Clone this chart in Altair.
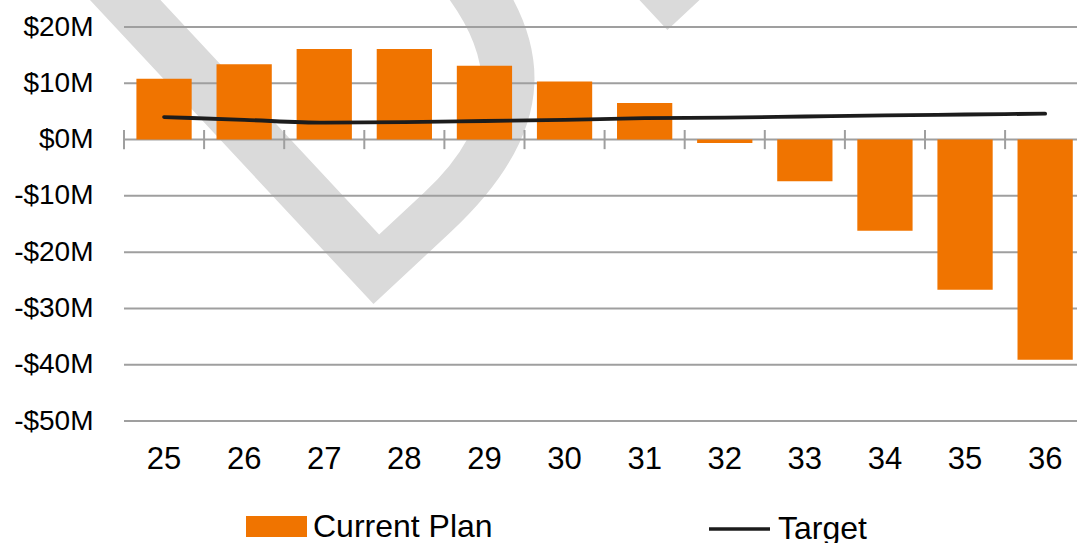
import altair as alt
import pandas as pd

# Fiscal years (two-digit) and the two series, in $M
years = ["25", "26", "27", "28", "29", "30", "31", "32", "33", "34", "35", "36"]
current_plan = [10.8, 13.4, 16.1, 16.1, 13.1, 10.3, 6.5, -0.6, -7.4, -16.2, -26.7, -39.1]
target = [4.0, 3.5, 3.0, 3.1, 3.3, 3.5, 3.8, 3.9, 4.1, 4.3, 4.45, 4.6]
y_ticks = [20, 10, 0, -10, -20, -30, -40, -50]
series_names = ["Current Plan", "Target"]
watermark = ["DRAFT"]

FONT = "Liberation Sans"
STAMP_FONT = "Liberation Sans Narrow, DejaVu Sans Condensed, Liberation Sans"
ORANGE = "#f07400"
LINE = "#1c1c1c"
GRID = "#9f9f9f"

df = pd.DataFrame({
    "year": years,
    "plan": current_plan,
    "target": target,
    "plan_name": series_names[0],
    "target_name": series_names[1],
})
grid_df = pd.DataFrame({"v": y_ticks})
mark_df = pd.DataFrame({"label": watermark})

W, H = 953, 394
STEP = 80.1

x_scale = alt.Scale(domain=years, range=[0, STEP * len(years)], paddingInner=0, paddingOuter=0)
y_scale = alt.Scale(domain=[-50, 20], nice=False)

x_axis = alt.Axis(labelFont=FONT, labelFontSize=31, labelColor="#000", labelPadding=38,
                  labelBaseline="middle", labelAngle=0, ticks=False, domain=False,
                  grid=False, title=None)
y_axis = alt.Axis(values=y_ticks,
                  labelExpr="(datum.value < 0 ? '-$' : '$') + abs(datum.value) + 'M'",
                  labelFont=FONT, labelFontSize=28, labelColor="#000", labelPadding=31,
                  ticks=False, domain=False, grid=False, title=None)

X = alt.X("year:N", scale=x_scale, axis=x_axis, sort=years)

# faint "DRAFT" stamp behind everything
stamp = alt.Chart(mark_df).mark_text(
    angle=317, fontSize=580, font=STAMP_FONT, align="left", baseline="alphabetic",
    color="#dadada"
).encode(x=alt.value(212), y=alt.value(312), text="label:N")

# horizontal gridlines at each labelled value (the zero line included)
grid = alt.Chart(grid_df).mark_rule(color=GRID, strokeWidth=2).encode(
    y=alt.Y("v:Q", scale=y_scale, axis=y_axis)
)

legend_common = dict(orient="none", title=None, padding=0, labelFont=FONT, labelFontSize=32,
                     labelColor="#000", labelOffset=6, labelLimit=0, symbolSize=3721)

bars = alt.Chart(df).mark_bar(width=alt.RelativeBandSize(0.69)).encode(
    x=X,
    y=alt.Y("plan:Q", scale=y_scale, axis=y_axis),
    color=alt.Color("plan_name:N",
                    scale=alt.Scale(domain=[series_names[0]], range=[ORANGE]),
                    legend=alt.Legend(legendX=122, legendY=469,
                                      symbolType="M-1,-0.344L1,-0.344L1,0.344L-1,0.344Z",
                                      symbolStrokeWidth=0, symbolOpacity=1,
                                      **legend_common)),
)

# category-boundary tick marks crossing the zero line
ticks = alt.Chart(df).mark_rule(color=GRID, strokeWidth=2).encode(
    x=alt.X("year:N", scale=x_scale, axis=x_axis, sort=years, bandPosition=0),
    y=alt.Y(datum=-1.7, scale=y_scale, axis=y_axis),
    y2=alt.Y2(datum=1.7),
)

line = alt.Chart(df).mark_line(interpolate="monotone", strokeWidth=3.8, strokeCap="round").encode(
    x=X,
    y=alt.Y("target:Q", scale=y_scale, axis=y_axis),
    stroke=alt.Stroke("target_name:N",
                      scale=alt.Scale(domain=[series_names[1]], range=[LINE]),
                      legend=alt.Legend(legendX=583, legendY=469.5,
                                        symbolType="stroke", symbolStrokeWidth=3.5,
                                        **legend_common)),
)

chart = alt.layer(stamp, grid, bars, ticks, line).properties(
    width=W, height=H,
    autosize=alt.AutoSizeParams(type="none"),
    padding={"left": 124, "top": 27, "right": 0, "bottom": 122},
    background="white",
).configure_view(stroke=None)

chart.save("out.html", embed_options={"renderer": "svg", "actions": False})
